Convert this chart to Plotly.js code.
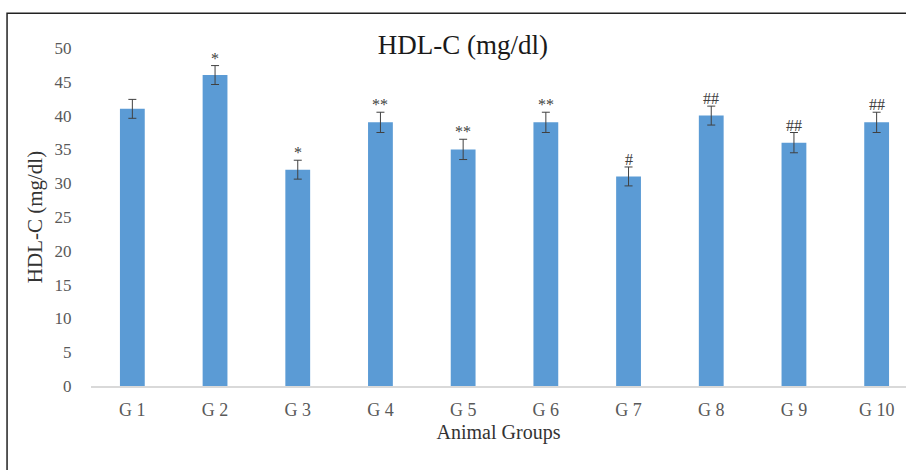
<!DOCTYPE html>
<html>
<head>
<meta charset="utf-8">
<script src="https://cdn.plot.ly/plotly-3.0.1.min.js"></script>
<style>html,body{margin:0;padding:0;background:#fff;}#chart{width:906px;height:470px;}</style>
</head>
<body>
<div id="chart"></div>
<script>
const groups = ["G 1","G 2","G 3","G 4","G 5","G 6","G 7","G 8","G 9","G 10"];
const hdlValues = [41, 46, 32, 39, 35, 39, 31, 40, 36, 39];
const hdlErrors = [1.4, 1.4, 1.4, 1.5, 1.5, 1.5, 1.4, 1.4, 1.5, 1.5];
const sigLabels = ["", "*", "*", "**", "**", "**", "#", "##", "##", "##"];
const yTicks = [0, 5, 10, 15, 20, 25, 30, 35, 40, 45, 50];

const serif = "'Liberation Serif', 'Times New Roman', serif";

const trace = {
  type: 'bar',
  x: groups,
  y: hdlValues,
  marker: {color: '#5B9BD5'},
  error_y: {type: 'data', array: hdlErrors, visible: true, color: '#404040', thickness: 1, width: 4},
  hoverinfo: 'none'
};

const annotations = groups.map((g, i) => ({
  x: g, y: hdlValues[i] + hdlErrors[i], xref: 'x', yref: 'y',
  text: sigLabels[i], showarrow: false, yanchor: 'bottom', yshift: -3,
  font: {family: serif, size: 16, color: '#404040'}
})).filter(a => a.text !== '');

const layout = {
  width: 906, height: 470,
  margin: {l: 91, r: 0, t: 47.7, b: 84, pad: 0},
  paper_bgcolor: '#fff', plot_bgcolor: '#fff',
  bargap: 0.7,
  showlegend: false,
  title: {text: 'HDL-C (mg/dl)', font: {family: serif, size: 27, color: '#1a1a1a'}, x: 0.511, xanchor: 'center', y: 0.905, yanchor: 'middle'},
  xaxis: {
    type: 'category', range: [-0.5, 9.355], showgrid: false, zeroline: false,
    showline: true, linecolor: '#D9D9D9', linewidth: 1.5,
    ticks: 'outside', ticklen: 7, tickcolor: 'rgba(0,0,0,0)',
    tickfont: {family: serif, size: 18, color: '#595959'},
    title: {text: 'Animal Groups', font: {family: serif, size: 20, color: '#333'}, standoff: 6}
  },
  yaxis: {
    range: [0, 50], tickvals: yTicks, showgrid: false, zeroline: false, showline: false,
    ticks: 'outside', ticklen: 15, tickcolor: 'rgba(0,0,0,0)',
    tickfont: {family: serif, size: 17, color: '#595959'},
    title: {text: 'HDL-C (mg/dl)', font: {family: serif, size: 21, color: '#333'}, standoff: 6}
  },
  annotations: annotations,
  shapes: [{
    type: 'rect', xref: 'paper', yref: 'paper',
    x0: -0.103, x1: 1.2, y0: -0.5, y1: 1.1026,
    line: {color: '#222', width: 1.5}, fillcolor: 'rgba(0,0,0,0)', layer: 'above'
  }]
};

Plotly.newPlot('chart', [trace], layout, {staticPlot: true, displayModeBar: false});
</script>
</body>
</html>
